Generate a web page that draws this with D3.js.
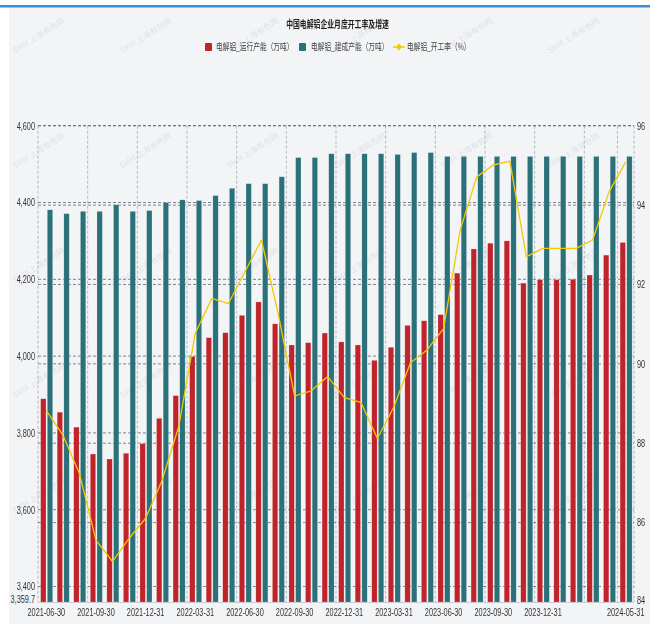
<!DOCTYPE html>
<html><head><meta charset="utf-8">
<script src="https://cdn.jsdelivr.net/npm/d3@7"></script>
<style>body{margin:0;background:#fff;overflow:hidden}</style>
</head><body><svg id="c" width="660" height="624"></svg>
<script>
const categories = ["2021-06-30","2021-07-31","2021-08-31","2021-09-30","2021-10-31","2021-11-30","2021-12-31",
"2022-01-31","2022-02-28","2022-03-31","2022-04-30","2022-05-31","2022-06-30","2022-07-31","2022-08-31","2022-09-30","2022-10-31","2022-11-30","2022-12-31",
"2023-01-31","2023-02-28","2023-03-31","2023-04-30","2023-05-31","2023-06-30","2023-07-31","2023-08-31","2023-09-30","2023-10-31","2023-11-30","2023-12-31",
"2024-01-31","2024-02-29","2024-03-31","2024-04-30","2024-05-31"];
const running = [3889,3854,3815,3745,3732,3747,3772,3838,3897,3999,4048,4061,4106,4141,4084,4029,4035,4060,4037,4029,3989,4023,4080,4092,4108,4216,4279,4294,4300,4190,4199,4199,4200,4211,4263,4296];
const built = [4381,4371,4377,4377,4394,4377,4379,4400,4407,4405,4418,4437,4449,4449,4467,4517,4517,4527,4527,4527,4527,4525,4530,4530,4520,4520,4520,4520,4520,4520,4520,4520,4520,4520,4520,4520];
const rate = [88.82,88.21,87.24,85.56,85.02,85.60,86.11,87.07,88.42,90.77,91.65,91.52,92.32,93.12,91.27,89.19,89.32,89.68,89.15,89.03,88.12,88.92,90.03,90.35,90.89,93.37,94.71,95.01,95.11,92.70,92.91,92.91,92.91,93.12,94.34,95.09];
const leftTicks = [3359.7,3400,3600,3800,4000,4200,4400,4600];
const leftGrid = [3400,3600,3800,4000,4200,4400,4600];
const rightTicks = [84,86,88,90,92,94,96];
const xLabels = ["2021-06-30","2021-09-30","2021-12-31","2022-03-31","2022-06-30","2022-09-30","2022-12-31","2023-03-31","2023-06-30","2023-09-30","2023-12-31","2024-05-31"];
const xGridCats = ["2021-06-30","2021-09-30","2021-12-31","2022-03-31","2022-06-30","2022-09-30","2022-12-31","2023-03-31","2023-06-30","2023-09-30","2023-12-31","2024-03-31","2024-05-31"];
const title = "中国电解铝企业月度开工率及增速";
const seriesNames = ["电解铝_运行产能（万吨）","电解铝_建成产能（万吨）","电解铝_开工率（%）"];
const colors = {run:"#c1232b", built:"#2b717a", rate:"#f6c700"};

const svg = d3.select("#c");
const L = 38, R = 634, T = 125.7, B = 602;
const NUM = "'Liberation Sans', Arial, sans-serif";
const CJK = "'Noto Sans CJK SC', sans-serif";
const K = 0.7;
function squish(sel, k){
  sel.each(function(){
    const t = d3.select(this);
    const x = +t.attr("x") || 0, y = +t.attr("y") || 0;
    t.attr("transform", `translate(${x},${y}) scale(${k},1) translate(${-x},${-y})`);
  });
}

// background
svg.append("rect").attr("x",9).attr("y",7).attr("width",641).attr("height",617).attr("fill","#f3f4f6");
svg.append("rect").attr("x",0).attr("y",5).attr("width",650).attr("height",2.5).attr("fill","#3a8dd8");

// watermark
const wm = svg.append("g").attr("font-family",CJK).attr("font-size",8).attr("fill","#d9dce2").attr("opacity",0.8);
for (let r=0;r<5;r++) for (let c=0;c<6;c++){
  const wx = 40 + c*107, wy = 38 + r*115;
  wm.append("text").attr("x",wx).attr("y",wy).attr("text-anchor","middle")
    .attr("transform",`rotate(-32,${wx},${wy})`).text("SMM 上海有色网");
}

const x = d3.scaleBand().domain(categories).range([L,R]).padding(0);
const bw = x.bandwidth();
const xs = d3.scaleBand().domain(["run","built"]).range([bw*0.16, bw*0.885]).paddingInner(0.2);
const yl = d3.scaleLinear().domain([3359.7,4600]).range([B,T]);
const yr = d3.scaleLinear().domain([84,96]).range([B,T]);

// vertical grid
const g = svg.append("g");
xGridCats.forEach(cat=>{
  g.append("line").attr("x1",x(cat)).attr("x2",x(cat)).attr("y1",T).attr("y2",B)
   .attr("stroke","#a3a8b6").attr("stroke-width",0.8).attr("stroke-dasharray","3,2");
});
g.append("line").attr("x1",R).attr("x2",R).attr("y1",T).attr("y2",B)
 .attr("stroke","#a3a8b6").attr("stroke-width",0.8).attr("stroke-dasharray","3,2");
// horizontal grids
leftGrid.forEach(v=>{
  g.append("line").attr("x1",L).attr("x2",R).attr("y1",yl(v)).attr("y2",yl(v))
   .attr("stroke","#5f667a").attr("stroke-width",0.8).attr("stroke-dasharray","3,2");
});
rightTicks.slice(1).forEach(v=>{
  g.append("line").attr("x1",L).attr("x2",R).attr("y1",yr(v)).attr("y2",yr(v))
   .attr("stroke","#5f667a").attr("stroke-width",0.8).attr("stroke-dasharray","3,2");
});

// bars
const bars = svg.append("g");
categories.forEach((cat,i)=>{
  bars.append("rect").attr("x",x(cat)+xs("run")).attr("width",xs.bandwidth())
    .attr("y",yl(running[i])).attr("height",B-yl(running[i]))
    .attr("fill",colors.run).attr("stroke","rgba(255,255,255,0.35)").attr("stroke-width",0.5);
  bars.append("rect").attr("x",x(cat)+xs("built")).attr("width",xs.bandwidth())
    .attr("y",yl(built[i])).attr("height",B-yl(built[i]))
    .attr("fill",colors.built).attr("stroke","rgba(255,255,255,0.35)").attr("stroke-width",0.5);
});

// line
const line = d3.line().x((d,i)=>x(categories[i])+bw/2).y(d=>yr(d));
svg.append("path").datum(rate).attr("d",line).attr("fill","none")
  .attr("stroke",colors.rate).attr("stroke-width",1.3).attr("stroke-linejoin","round");

// bottom baseline
svg.append("line").attr("x1",L).attr("x2",R).attr("y1",B+0.5).attr("y2",B+0.5).attr("stroke","#c9ccd4").attr("stroke-width",1);

// axes
const axL = svg.append("g").attr("transform",`translate(${L},0)`)
  .call(d3.axisLeft(yl).tickValues(leftTicks).tickSize(0).tickPadding(3)
    .tickFormat(d=> d===3359.7 ? "3,359.7" : d3.format(",")(d)));
axL.select(".domain").remove();
axL.selectAll("text").attr("font-family",NUM).attr("font-size",10.5).attr("fill","#333")
  .attr("y",d=> d===3359.7 ? -3 : 0).call(squish,K);

const axR = svg.append("g").attr("transform",`translate(${R},0)`)
  .call(d3.axisRight(yr).tickValues(rightTicks).tickSize(0).tickPadding(3));
axR.select(".domain").remove();
axR.selectAll("text").attr("font-family",NUM).attr("font-size",10.5).attr("fill","#333")
  .attr("y",d=> d===84 ? -2 : 0).call(squish,K);

const axB = svg.append("g").attr("transform",`translate(0,${B})`)
  .call(d3.axisBottom(x).tickValues(xLabels).tickSize(0).tickPadding(7));
axB.select(".domain").remove();
axB.selectAll("text").attr("font-family",NUM).attr("font-size",10.5).attr("fill","#333").call(squish,K);

// title
svg.append("text").attr("x",337.5).attr("y",28).attr("text-anchor","middle")
  .attr("font-family",CJK).attr("font-size",9.8).attr("font-weight","bold").attr("fill","#222")
  .text(title).call(squish,K);

// legend
const lg = svg.append("g").attr("font-family",CJK).attr("font-size",9.6).attr("fill","#444");
lg.append("rect").attr("x",205).attr("y",43).attr("width",7).attr("height",8).attr("rx",1).attr("fill",colors.run);
lg.append("text").attr("x",216).attr("y",50.5).text(seriesNames[0]).call(squish,K);
lg.append("rect").attr("x",299).attr("y",43).attr("width",7).attr("height",8).attr("rx",1).attr("fill",colors.built);
lg.append("text").attr("x",311).attr("y",50.5).text(seriesNames[1]).call(squish,K);
lg.append("line").attr("x1",393).attr("x2",405).attr("y1",47).attr("y2",47).attr("stroke",colors.rate).attr("stroke-width",1.5);
lg.append("path").attr("d","M399,43.5 L402,47 L399,50.5 L396,47 Z").attr("fill",colors.rate);
lg.append("text").attr("x",407).attr("y",50.5).text(seriesNames[2]).call(squish,K);
</script></body></html>
